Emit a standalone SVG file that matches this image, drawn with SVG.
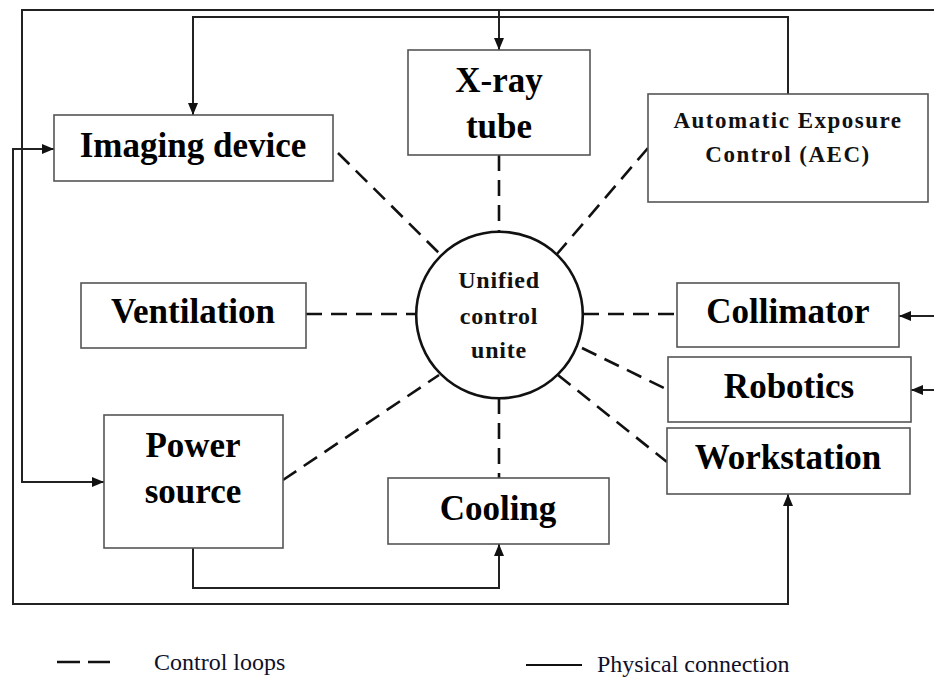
<svg xmlns="http://www.w3.org/2000/svg" width="934" height="679" viewBox="0 0 934 679">
  <style>
    .box { fill: #ffffff; stroke: #555555; stroke-width: 1.6; }
    .hub { fill: #ffffff; stroke: #111111; stroke-width: 2.6; }
    .wire { fill: none; stroke: #222222; stroke-width: 2; }
    .ctl { fill: none; stroke: #111111; stroke-width: 2.6; stroke-dasharray: 16 9; }
    .big { font-family: "Liberation Serif", "Times New Roman", serif; font-weight: bold; font-size: 35px; fill: #000000; text-anchor: middle; }
    .mid { font-family: "Liberation Serif", "Times New Roman", serif; font-weight: bold; font-size: 23px; letter-spacing: 1.5px; fill: #111111; text-anchor: middle; }
    .hubtxt { font-family: "Liberation Serif", "Times New Roman", serif; font-weight: bold; font-size: 24px; letter-spacing: 0.8px; fill: #111111; text-anchor: middle; }
    .legend { font-family: "Liberation Serif", "Times New Roman", serif; font-size: 24px; fill: #101028; }
  </style>
  <defs>
    <marker id="arrow" viewBox="0 0 12 10" refX="12" refY="5" markerWidth="12" markerHeight="10" markerUnits="userSpaceOnUse" orient="auto-start-reverse">
      <path d="M0,0 L12,5 L0,10 Z" fill="#111111"/>
    </marker>
  </defs>

  <rect width="934" height="679" fill="#ffffff"/>

  <!-- physical connections -->
  <g id="connectors">
    <path class="wire" d="M934,10 H22 V482 H104" marker-end="url(#arrow)"/>
    <path class="wire" d="M499,10 V50" marker-end="url(#arrow)"/>
    <path class="wire" d="M54,149 H13 V604 H788 V494" marker-start="url(#arrow)" marker-end="url(#arrow)"/>
    <path class="wire" d="M788,94 V17 H193 V115" marker-end="url(#arrow)"/>
    <path class="wire" d="M193,548 V588 H499 V544" marker-end="url(#arrow)"/>
    <path class="wire" d="M934,316 H899" marker-end="url(#arrow)"/>
    <path class="wire" d="M934,390 H911" marker-end="url(#arrow)"/>

    <!-- control loops -->
    <path class="ctl" d="M338,153 L440,254"/>
    <path class="ctl" d="M499,155 V232"/>
    <path class="ctl" d="M648,148 L557,254"/>
    <path class="ctl" d="M306,314 H416"/>
    <path class="ctl" d="M583,314 H677"/>
    <path class="ctl" d="M582,348 L668,390"/>
    <path class="ctl" d="M558,375 L667,462"/>
    <path class="ctl" d="M499,398 V478"/>
    <path class="ctl" d="M283,480 L439,375"/>
  </g>

  <g id="imaging-device">
    <rect class="box" x="54" y="115" width="279" height="66"/>
    <text class="big" x="193" y="157">Imaging device</text>
  </g>
  <g id="xray-tube">
    <rect class="box" x="408" y="50" width="182" height="105"/>
    <text class="big" x="499" y="92">X-ray</text>
    <text class="big" x="499" y="138">tube</text>
  </g>
  <g id="aec">
    <rect class="box" x="648" y="94" width="280" height="108"/>
    <text class="mid" x="788" y="128">Automatic Exposure</text>
    <text class="mid" x="788" y="162">Control (AEC)</text>
  </g>
  <g id="ventilation">
    <rect class="box" x="81" y="283" width="225" height="65"/>
    <text class="big" x="193" y="323">Ventilation</text>
  </g>
  <g id="control-unit">
    <circle class="hub" cx="499.5" cy="315" r="83.3"/>
    <text class="hubtxt" x="499" y="288">Unified</text>
    <text class="hubtxt" x="499" y="324">control</text>
    <text class="hubtxt" x="499" y="358">unite</text>
  </g>
  <g id="collimator">
    <rect class="box" x="677" y="283" width="222" height="64"/>
    <text class="big" x="788" y="323">Collimator</text>
  </g>
  <g id="robotics">
    <rect class="box" x="668" y="357" width="243" height="65"/>
    <text class="big" x="789" y="398">Robotics</text>
  </g>
  <g id="workstation">
    <rect class="box" x="667" y="428" width="243" height="66"/>
    <text class="big" x="788" y="469">Workstation</text>
  </g>
  <g id="cooling">
    <rect class="box" x="388" y="478" width="221" height="66"/>
    <text class="big" x="498" y="520">Cooling</text>
  </g>
  <g id="power-source">
    <rect class="box" x="104" y="415" width="179" height="133"/>
    <text class="big" x="193" y="457">Power</text>
    <text class="big" x="193" y="503">source</text>
  </g>

  <g id="legend">
    <path d="M57,662 H80 M88,662 H110" stroke="#111111" stroke-width="2.4" fill="none"/>
    <text class="legend" x="154" y="670">Control loops</text>
    <path d="M526,665 H582" stroke="#111111" stroke-width="2" fill="none"/>
    <text class="legend" x="597" y="672">Physical connection</text>
  </g>
</svg>
